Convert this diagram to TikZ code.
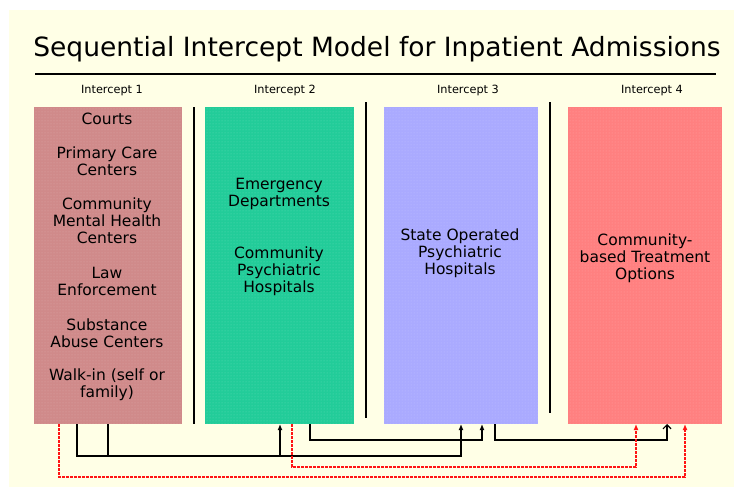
\documentclass[tikz,border=0pt]{standalone}
\usepackage{fontspec}
\setmainfont{DejaVu Sans}
\usetikzlibrary{arrows.meta,patterns}
\definecolor{bgyellow}{RGB}{255,255,230}
\definecolor{intone}{RGB}{208,138,138}
\definecolor{inttwo}{RGB}{34,204,153}
\definecolor{intthree}{RGB}{170,170,255}
\definecolor{intfour}{RGB}{255,128,128}
\definecolor{linkred}{RGB}{255,20,20}
\newcommand{\boxfont}{\fontsize{15.5}{17}\selectfont}
\newcommand{\headfont}{\fontsize{11.3}{13}\selectfont}
\tikzstyle{column}=[inner sep=0, outer sep=0, minimum height=317pt,
                    postaction={pattern=dots, pattern color=white, fill opacity=0.25}]
\tikzstyle{entry}=[align=center, inner sep=0, font=\boxfont]
\tikzstyle{heading}=[anchor=base, inner sep=0, font=\headfont]
\tikzstyle{divider}=[line width=2pt]
\tikzstyle{link}=[line width=1.2pt, -{Latex[length=6pt,width=5pt]}]
\tikzstyle{redlink}=[draw=linkred, line width=1.3pt, dash pattern=on 3pt off 1pt,
                     -{Latex[length=6pt,width=5pt]}]

\begin{document}
\begin{tikzpicture}[x=1pt, y=-1pt]
        \useasboundingbox (0,0) rectangle (734,487);
        \fill[bgyellow] (9,10) rectangle (734,487);
        % Title and rule.
        \node[anchor=base, inner sep=0, font=\fontsize{26.5}{30}\selectfont] (title) at (377,57)
            {Sequential Intercept Model for Inpatient Admissions};
        \draw[line width=2pt] (35,74) -- (716,74);
        % Intercept headings.
        \node[heading] (h1) at (112,94) {Intercept 1};
        \node[heading] (h2) at (285,94) {Intercept 2};
        \node[heading] (h3) at (468,94) {Intercept 3};
        \node[heading] (h4) at (652,94) {Intercept 4};
        % Columns.
        \node[column, fill=intone, minimum width=148pt] (I1) at (108,265.5) {};
        \node[column, fill=inttwo, minimum width=149pt] (I2) at (279.5,265.5) {};
        \node[column, fill=intthree, minimum width=154pt] (I3) at (461,265.5) {};
        \node[column, fill=intfour, minimum width=154pt] (I4) at (645,265.5) {};
        \draw[divider] (194,107) -- (194,424);
        \draw[divider] (366,102) -- (366,418);
        \draw[divider] (550,102) -- (550,413);
        % Entries of intercept 1.
        \node[entry] (courts) at (107,119) {Courts};
        \node[entry] (primary) at (107,161.5) {Primary Care\\Centers};
        \node[entry] (cmhc) at (107,221) {Community\\Mental Health\\Centers};
        \node[entry] (law) at (107,281.5) {Law\\Enforcement};
        \node[entry] (abuse) at (107,333) {Substance\\Abuse Centers};
        \node[entry] (walkin) at (107,384.5) {Walk-in (self or\\family)};
        % Entries of intercepts 2 to 4.
        \node[entry] (emerg) at (279,193.5) {Emergency\\Departments};
        \node[entry] (cph) at (279,271) {Community\\Psychiatric\\Hospitals};
        \node[entry] (soph) at (460,253) {State Operated\\Psychiatric\\Hospitals};
        \node[entry] (cbto) at (645,258.5) {Community-\\based Treatment\\Options};
        % Referral paths.
        \coordinate (a1) at (77,456);
        \coordinate (a2) at (461,456);
        \coordinate (b1) at (108,456);
        \coordinate (b2) at (280,456);
        \coordinate (c1) at (310,440);
        \coordinate (c2) at (482,440);
        \coordinate (d1) at (495,440);
        \coordinate (d2) at (667,440);
        \coordinate (r1) at (59,477);
        \coordinate (r2) at (685,477);
        \coordinate (s1) at (292,467);
        \coordinate (s2) at (636,467);
        \draw[link] (I1.south -| a1) -- (a1) -- (a2) -- (I3.south -| a2);
        \draw[link] (I1.south -| b1) -- (b1) -- (b2) -- (I2.south -| b2);
        \draw[link] (I2.south -| c1) -- (c1) -- (c2) -- (I3.south -| c2);
        \draw[link, -{Straight Barb[length=4pt,width=8pt]}] (I3.south -| d1) -- (d1) -- (d2) -- (I4.south -| d2);
        \draw[redlink] (I1.south -| r1) -- (r1) -- (r2) -- (I4.south -| r2);
        \draw[redlink] (I2.south -| s1) -- (s1) -- (s2) -- (I4.south -| s2);
    \end{tikzpicture}
\end{document}
